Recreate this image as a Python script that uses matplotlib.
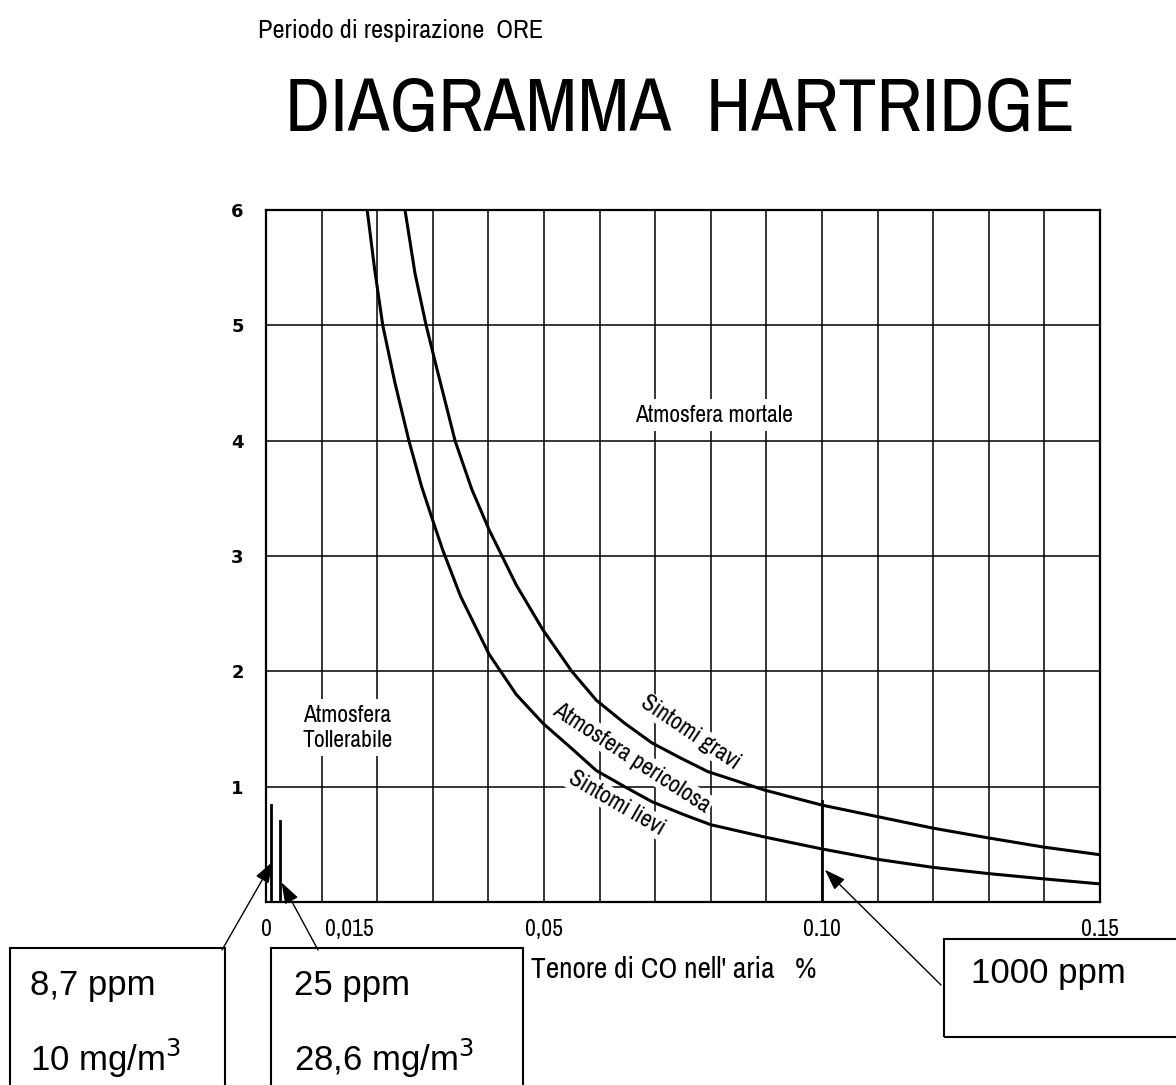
import matplotlib
matplotlib.use("Agg")
import matplotlib.pyplot as plt
from matplotlib import font_manager as fm
from matplotlib.patches import Rectangle

# Hartridge diagram: CO concentration in air (%) vs breathing period (hours)
gravi_x = [0.025, 0.0268, 0.0288, 0.0306, 0.034, 0.037, 0.0401, 0.045, 0.0498,
           0.055, 0.0594, 0.0645, 0.0694, 0.0745, 0.0795, 0.0897, 0.100, 0.110,
           0.120, 0.130, 0.140, 0.150]
gravi_y = [6.0, 5.45, 5.0, 4.65, 4.0, 3.58, 3.23, 2.75, 2.36,
           2.0, 1.75, 1.55, 1.38, 1.25, 1.13, 0.97, 0.84, 0.74,
           0.64, 0.555, 0.475, 0.41]

lievi_x = [0.0182, 0.0195, 0.021, 0.0232, 0.0257, 0.028, 0.0304, 0.0318, 0.035,
           0.0401, 0.045, 0.0498, 0.055, 0.0594, 0.0645, 0.0694, 0.075, 0.080,
           0.090, 0.100, 0.110, 0.120, 0.130, 0.140, 0.150]
lievi_y = [6.0, 5.5, 5.0, 4.5, 4.0, 3.6, 3.25, 3.05, 2.65,
           2.15, 1.8, 1.55, 1.33, 1.14, 1.0, 0.87, 0.76, 0.67,
           0.56, 0.46, 0.37, 0.30, 0.246, 0.20, 0.157]

xtick_vals = [0, 0.015, 0.05, 0.10, 0.15]
xtick_labels = ["0", "0,015", "0,05", "0.10", "0.15"]
ytick_vals = [1, 2, 3, 4, 5, 6]

# reference levels marked on the x axis (8.7 ppm, 25 ppm, 1000 ppm)
marker_x = [0.00087, 0.0025, 0.10]
marker_h = [0.84, 0.70, 0.88]

W, H = 1176, 1085


def pick_narrow():
    for f in fm.fontManager.ttflist:
        if "Narrow" in f.name or "Condensed" in f.name:
            return f.name, "normal"
    for f in fm.fontManager.ttflist:
        if f.stretch in ("condensed", "semi-condensed", "extra-condensed"):
            return f.name, f.stretch
    return "DejaVu Sans", "normal"


NARROW_NAME, NARROW_STRETCH = pick_narrow()
NARROW = [NARROW_NAME, "DejaVu Sans"]
BOXFONT = ["Liberation Sans", "DejaVu Sans"]

fig = plt.figure(figsize=(W / 100, H / 100), dpi=100)
ax = fig.add_axes([266 / W, 1 - 902 / H, (1100 - 266) / W, (902 - 210) / H])

ax.set_xlim(0, 0.15)
ax.set_ylim(0, 6)

# grid every 0.01 % and every hour
for i in range(1, 15):
    ax.axvline(i * 0.01, color="black", lw=1.1, zorder=1)
for v in range(1, 6):
    ax.axhline(v, color="black", lw=1.1, zorder=1)

for s in ax.spines.values():
    s.set_linewidth(1.6)

ax.plot(gravi_x, gravi_y, color="black", lw=2.2, zorder=3, solid_joinstyle="round")
ax.plot(lievi_x, lievi_y, color="black", lw=2.2, zorder=3, solid_joinstyle="round")

for mx, mh in zip(marker_x, marker_h):
    ax.plot([mx, mx], [0, mh], color="black", lw=2.0, zorder=3)

ax.set_xticks(xtick_vals)
ax.set_xticklabels(xtick_labels, family=NARROW, stretch=NARROW_STRETCH,
                   fontsize=17, fontweight="bold")
ax.set_yticks(ytick_vals)
ax.set_yticklabels([str(v) for v in ytick_vals], fontsize=13, fontweight="bold")
ax.tick_params(axis="x", length=0, pad=12)
ax.tick_params(axis="y", length=0, pad=16)

txt = dict(family=NARROW, stretch=NARROW_STRETCH, fontsize=17, zorder=4)
# region labels
ax.text(0.0806, 4.22, "Atmosfera mortale", ha="center", va="center",
        bbox=dict(facecolor="white", edgecolor="none", pad=4), **txt)
ax.text(0.0146, 1.51, "Atmosfera\nTollerabile", ha="center", va="center",
        linespacing=1.2, bbox=dict(facecolor="white", edgecolor="none", pad=4), **txt)
ax.text(0.0763, 1.47, "Sintomi gravi", fontweight="bold", rotation=-34,
        ha="center", va="center", rotation_mode="anchor",
        bbox=dict(facecolor="white", edgecolor="none", pad=1), **txt)
ax.text(0.0658, 1.25, "Atmosfera pericolosa", rotation=-33, ha="center",
        va="center", rotation_mode="anchor",
        bbox=dict(facecolor="white", edgecolor="none", pad=1), **txt)
ax.text(0.063, 0.86, "Sintomi lievi", rotation=-30, ha="center", va="center",
        rotation_mode="anchor",
        bbox=dict(facecolor="white", edgecolor="none", pad=1), **txt)

# titles
t_ylab = fig.text(258 / W, 1 - 30 / H, "Periodo di respirazione  ORE",
                  family=NARROW, stretch=NARROW_STRETCH, fontsize=13,
                  ha="left", va="center")
t_title = fig.text(680 / W, 1 - 110 / H, "DIAGRAMMA  HARTRIDGE",
                   family=NARROW, stretch=NARROW_STRETCH, fontweight="light",
                   fontsize=60, ha="center", va="center")
t_xlab = fig.text(531 / W, 1 - 970 / H, "Tenore di CO nell' aria   %",
                  family=NARROW, stretch=NARROW_STRETCH, fontsize=13,
                  ha="left", va="center")

# size the hand-lettered labels to the widths they take in the drawing
renderer = fig.canvas.get_renderer()
for t, target in [(t_title, 790), (t_ylab, 287), (t_xlab, 287)]:
    w = t.get_window_extent(renderer).width
    t.set_fontsize(t.get_fontsize() * target / w)


# annotation boxes (figure pixel coords, origin top-left)
def box(x0, y0, x1, y1):
    fig.patches.append(Rectangle((x0 / W, 1 - y1 / H), (x1 - x0) / W, (y1 - y0) / H,
                                 transform=fig.transFigure, fill=False,
                                 edgecolor="black", lw=1.5))


box(10, 948, 225, 1100)
box(271, 948, 523, 1100)
box(944, 939, 1190, 1037)

fig.text(30 / W, 1 - 985 / H, "8,7 ppm", family=BOXFONT, fontsize=25, va="center")
fig.text(30 / W, 1 - 1058 / H, "10 mg/m$^3$", family=BOXFONT, fontsize=25, va="center")
fig.text(294 / W, 1 - 985 / H, "25 ppm", family=BOXFONT, fontsize=25, va="center")
fig.text(294 / W, 1 - 1058 / H, "28,6 mg/m$^3$", family=BOXFONT, fontsize=25, va="center")
fig.text(971 / W, 1 - 973 / H, "1000 ppm", family=BOXFONT, fontsize=25, va="center")

arrow = dict(arrowstyle="-|>,head_length=1.3,head_width=0.45", color="black",
             lw=1.0, shrinkA=0, shrinkB=0)
ax.annotate("", xy=(0.0012, 0.35), xycoords="data",
            xytext=(222 / W, 1 - 950 / H), textcoords="figure fraction",
            arrowprops=arrow, annotation_clip=False)
ax.annotate("", xy=(0.0028, 0.17), xycoords="data",
            xytext=(318 / W, 1 - 950 / H), textcoords="figure fraction",
            arrowprops=arrow, annotation_clip=False)
ax.annotate("", xy=(0.1005, 0.28), xycoords="data",
            xytext=(941 / W, 1 - 985 / H), textcoords="figure fraction",
            arrowprops=arrow, annotation_clip=False)

fig.savefig("out.png", dpi=100)
